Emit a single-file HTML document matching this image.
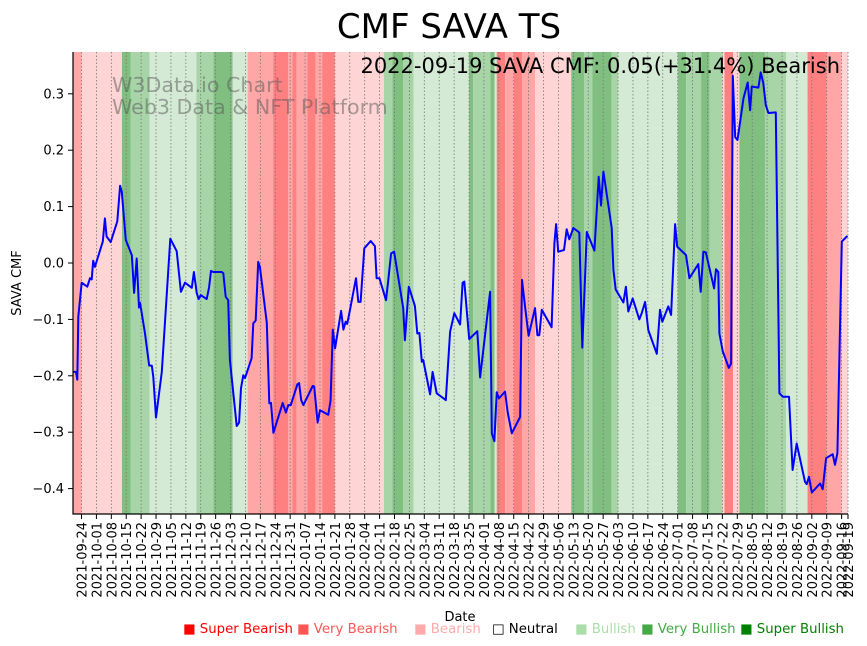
<!DOCTYPE html>
<html><head><meta charset="utf-8"><style>
html,body{margin:0;padding:0;background:#fff;}
svg{display:block;font-family:"DejaVu Sans","Liberation Sans",sans-serif;}
</style></head><body>
<svg id="chart" width="867" height="646" viewBox="0 0 867 646" xmlns="http://www.w3.org/2000/svg">
<text x="449" y="38" font-size="34" text-anchor="middle" fill="#000">CMF SAVA TS</text>
<g id="bands"></g>
<g id="grid"></g>
<g id="wm">
<text x="112" y="92" font-size="20.6" fill="#555" fill-opacity="0.5">W3Data.io Chart</text>
<text x="112" y="114" font-size="20.6" fill="#555" fill-opacity="0.5">Web3 Data &amp; NFT Platform</text>
</g>
<g id="line"></g>
<text x="840" y="73" font-size="21" text-anchor="end" fill="#000">2022-09-19 SAVA CMF: 0.05(+31.4%) Bearish</text>
<g id="axes"></g>
<text x="460" y="621" font-size="13" text-anchor="middle">Date</text>
<text x="21" y="283" font-size="13" text-anchor="middle" transform="rotate(-90 21 283)">SAVA CMF</text>
<g id="legend" font-size="13.3">
<text x="183" y="633" fill="#ff0000">■ Super Bearish</text>
<text x="297" y="633" fill="#ff5555">■ Very Bearish</text>
<text x="414" y="633" fill="#ffaaaa">■ Bearish</text>
<text x="492" y="633" fill="#000">□ Neutral</text>
<text x="575" y="633" fill="#aaddaa">■ Bullish</text>
<text x="641" y="633" fill="#44aa44">■ Very Bullish</text>
<text x="740" y="633" fill="#008000">■ Super Bullish</text>
</g>
</svg>
<script>
const startDate = "2021-09-20";
const endDate = "2022-09-19";
const bandStarts = ["2021-09-20","2021-09-24","2021-10-13","2021-10-17","2021-10-26","2021-11-17","2021-11-25","2021-12-04","2021-12-11","2021-12-23","2021-12-30","2022-01-01","2022-01-03","2022-01-08","2022-01-12","2022-01-15","2022-01-21","2022-02-13","2022-02-17","2022-02-22","2022-02-27","2022-03-25","2022-03-27","2022-04-04","2022-04-06","2022-04-07","2022-04-11","2022-04-15","2022-04-19","2022-04-25","2022-05-12","2022-05-18","2022-05-22","2022-05-31","2022-06-03","2022-07-01","2022-07-05","2022-07-12","2022-07-16","2022-07-22","2022-07-23","2022-07-27","2022-07-30","2022-08-11","2022-08-21","2022-08-31","2022-09-09","2022-09-16"];
const bandLevels = [-2,-1,3,2,1,2,3,1,-2,-3,-2,-3,-2,-3,-2,-3,-1,2,3,2,1,3,2,3,1,-3,-2,-3,-2,-1,3,2,3,2,1,3,2,3,2,-1,-3,-1,3,2,1,-3,-2,-1];
const dayOffsets = [0,1.4,2,2.5,4.1,6.7,8,8.8,9.5,10.3,14,15,15.8,17.7,20.8,22.1,22.9,24.8,27.6,28.7,29.9,31,31.5,33.8,34.6,35.8,37,37.7,39,41.7,45.7,48.7,50.7,52.6,55.8,56.8,58.1,59,60,62.8,63.9,64.8,65.9,69.8,70.6,71.7,72.9,73.7,76.9,78,78.9,80,80.8,83.9,84.7,85.8,87,87.8,91,92.2,93,94.1,98.5,100,101.1,102.3,105.4,106.2,107.2,108.2,112.6,113.3,114.9,116,119.9,121,122,123.1,125.9,127,128.1,128.8,130.1,132.9,134,135.1,136.8,139.8,141.8,142.6,143.9,147,148.1,149.4,150.8,155.1,155.9,157.7,160.6,161.7,162.7,163.8,164.5,167.7,168.9,170.8,175.1,177.1,179.1,181.8,183,183.8,186.1,189.9,191.2,195.9,196.7,197.9,199,200.1,202.9,204.2,206.1,210,210.9,212.3,214,217,218.1,219,220.2,224.8,226.1,226.9,227.9,230.6,231.9,233.1,235,237.8,239.2,241.3,244.9,246.9,248,249.1,253,253.8,254.9,258.5,259.7,260.8,262.9,266,267.1,268.7,270.2,274.2,275.7,276.8,279.6,280.9,282.8,283.8,287.9,289.5,293.7,294.8,296.1,297.2,301.1,302,303.1,303.6,305.2,308,309.1,309.9,311,312.1,314.9,316.9,318,318.8,321.9,323,324.2,325.4,326.6,330.1,331.8,333.4,336.3,338,339.9,343.8,344.6,345.7,347,350.9,352.1,353.7,356.8,357.9,359,361.1,363.7];
const cmfValues = [-0.193,-0.193,-0.207,-0.095,-0.035,-0.042,-0.027,-0.029,0.004,-0.007,0.038,0.079,0.047,0.037,0.074,0.137,0.126,0.041,0.014,-0.053,0.008,-0.079,-0.071,-0.125,-0.148,-0.182,-0.182,-0.202,-0.274,-0.193,0.043,0.021,-0.051,-0.035,-0.044,-0.016,-0.053,-0.064,-0.057,-0.064,-0.043,-0.014,-0.016,-0.016,-0.018,-0.06,-0.066,-0.172,-0.289,-0.283,-0.222,-0.199,-0.204,-0.169,-0.107,-0.102,0.002,-0.007,-0.106,-0.249,-0.248,-0.301,-0.248,-0.265,-0.252,-0.252,-0.215,-0.213,-0.243,-0.252,-0.218,-0.219,-0.283,-0.261,-0.269,-0.243,-0.118,-0.151,-0.085,-0.118,-0.104,-0.108,-0.083,-0.027,-0.069,-0.069,0.026,0.039,0.03,-0.027,-0.027,-0.066,-0.03,0.017,0.02,-0.08,-0.137,-0.042,-0.076,-0.125,-0.124,-0.175,-0.172,-0.233,-0.193,-0.231,-0.243,-0.122,-0.089,-0.109,-0.035,-0.033,-0.135,-0.121,-0.203,-0.051,-0.302,-0.316,-0.229,-0.24,-0.228,-0.266,-0.302,-0.273,-0.03,-0.077,-0.129,-0.08,-0.128,-0.128,-0.083,-0.114,0.035,0.069,0.02,0.023,0.06,0.042,0.062,0.054,-0.15,0.055,0.022,0.153,0.102,0.162,0.062,-0.012,-0.047,-0.07,-0.042,-0.086,-0.063,-0.1,-0.089,-0.069,-0.119,-0.161,-0.083,-0.104,-0.077,-0.092,0.069,0.029,0.014,-0.027,-0.002,-0.051,0.02,0.019,-0.045,-0.011,-0.016,-0.125,-0.157,-0.186,-0.178,0.332,0.223,0.218,0.292,0.32,0.271,0.313,0.311,0.338,0.319,0.28,0.266,0.267,-0.231,-0.237,-0.237,-0.367,-0.32,-0.388,-0.392,-0.379,-0.407,-0.391,-0.401,-0.346,-0.339,-0.358,-0.337,0.038,0.048];
const yTicks = [0.3,0.2,0.1,0.0,-0.1,-0.2,-0.3,-0.4];
const xTickLabels = ["2021-09-24","2021-10-01","2021-10-08","2021-10-15","2021-10-22","2021-10-29","2021-11-05","2021-11-12","2021-11-19","2021-11-26","2021-12-03","2021-12-10","2021-12-17","2021-12-24","2021-12-31","2022-01-07","2022-01-14","2022-01-21","2022-01-28","2022-02-04","2022-02-11","2022-02-18","2022-02-25","2022-03-04","2022-03-11","2022-03-18","2022-03-25","2022-04-01","2022-04-08","2022-04-15","2022-04-22","2022-04-29","2022-05-06","2022-05-13","2022-05-20","2022-05-27","2022-06-03","2022-06-10","2022-06-17","2022-06-24","2022-07-01","2022-07-08","2022-07-15","2022-07-22","2022-07-29","2022-08-05","2022-08-12","2022-08-19","2022-08-26","2022-09-02","2022-09-09","2022-09-16","2022-09-19"];

const NS = "http://www.w3.org/2000/svg";
const L = 73, R = 848, T = 52, B = 514;
const t0 = Date.parse(startDate + "T00:00:00Z");
const span = (Date.parse(endDate + "T00:00:00Z") - t0) / 86400000;
function dayOf(s){ return (Date.parse(s + "T00:00:00Z") - t0) / 86400000; }
function xScale(d){ return L + d * (R - L) / span; }
function yScale(v){ return 263 - v * 564; }
const levelColor = {"-3":"#ff8080","-2":"#ffa6a6","-1":"#ffd4d4","1":"#d4ead4","2":"#a8d5a8","3":"#80bf80"};
function mk(tag, attrs, parent){ const e = document.createElementNS(NS, tag); for (const k in attrs) e.setAttribute(k, attrs[k]); parent.appendChild(e); return e; }

const gB = document.getElementById("bands");
for (let i = 0; i < bandStarts.length; i++) {
  const x0 = xScale(dayOf(bandStarts[i]));
  const x1 = i + 1 < bandStarts.length ? xScale(dayOf(bandStarts[i+1])) : xScale(span + 1);
  const r = mk("rect", {x:x0, y:T, width:Math.max(0, Math.min(x1, R) - x0), height:B-T, fill:levelColor[String(bandLevels[i])]}, gB);
  
  
}
const gG = document.getElementById("grid");
const gA = document.getElementById("axes");
xTickLabels.forEach(lbl => {
  const x = xScale(dayOf(lbl));
  const g = mk("line", {x1:x, x2:x, y1:T, y2:B, stroke:"#777", "stroke-width":0.8, "stroke-dasharray":"1.5,2"}, gG);
  
  
  const tk = mk("line", {x1:x, x2:x, y1:B, y2:B+5, stroke:"#000", "stroke-width":1}, gA);
  
  
  const t = mk("text", {x:0, y:0, "font-size":13, "text-anchor":"end", transform:"translate(" + (x + 5) + "," + (B + 8) + ") rotate(-90)"}, gA);
  t.textContent = lbl;
  
  
});
yTicks.forEach(v => {
  const y = yScale(v);
  const tk = mk("line", {x1:L-5, x2:L, y1:y, y2:y, stroke:"#000", "stroke-width":1}, gA);
  
  
  const t = mk("text", {x:L-9, y:y+4.5, "font-size":13, "text-anchor":"end"}, gA);
  t.textContent = (v < 0 ? "\u2212" : "") + Math.abs(v).toFixed(1);
  
  
});
const ax = mk("path", {d:"M"+L+","+T+" V"+B+" H"+R, fill:"none", stroke:"#000", "stroke-width":1.2}, gA);



const pts = dayOffsets.map((d, i) => xScale(d).toFixed(1) + "," + yScale(cmfValues[i]).toFixed(1)).join(" ");
const pl = mk("polyline", {points:pts, fill:"none", stroke:"#0000ff", "stroke-width":2, "stroke-linejoin":"round"}, document.getElementById("line"));


</script>
</body></html>
